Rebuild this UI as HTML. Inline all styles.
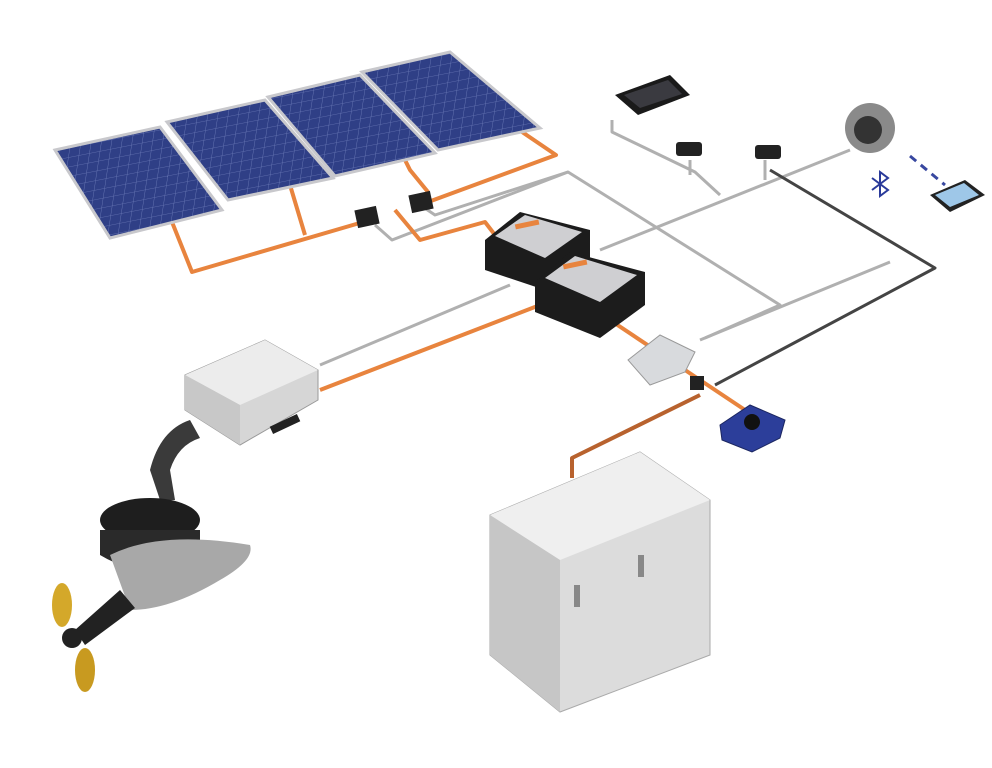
<!DOCTYPE html>
<html><head><style>html,body{margin:0;padding:0;background:#fff}svg{display:block}</style></head>
<body>
<svg width="992" height="768" viewBox="0 0 992 768" xmlns="http://www.w3.org/2000/svg">
<defs>
<pattern id="cells" width="10" height="10" patternUnits="userSpaceOnUse" patternTransform="skewX(-20) rotate(-12)">
<rect width="10" height="10" fill="#2f3f86"/><path d="M0 0H10M0 0V10" stroke="#6c7bb8" stroke-width="0.8"/>
</pattern>
</defs>
<g fill="none" stroke-linejoin="round">
<!-- gray wires -->
<g stroke="#b0b0b0" stroke-width="3">
<path d="M375 225 L392 240 L568 172 L780 305 L705 338"/>
<path d="M420 205 L435 215 L568 172"/>
<path d="M320 365 L510 285"/>
<path d="M600 250 L850 150"/>
<path d="M612 120 L612 132 L695 172 L720 195"/>
<path d="M690 160 L690 175"/>
<path d="M765 160 L765 180"/>
<path d="M700 340 L890 262"/>
</g>
<path d="M770 170 L935 268 L715 385" stroke="#444" stroke-width="3"/>
<!-- orange cables -->
<g stroke="#e8843e" stroke-width="4">
<path d="M172 222 L192 272 L370 220"/>
<path d="M290 185 L305 235"/>
<path d="M400 150 L410 170 L428 192"/>
<path d="M500 117 L556 155 L420 205"/>
<path d="M395 210 L420 240 L485 222 L495 235"/>
<path d="M320 390 L540 305"/>
<path d="M610 320 L700 380 L760 420"/>
</g>
<path d="M700 395 L572 458 L572 478" stroke="#b8622e" stroke-width="4"/>
<path d="M910 156 L945 185" stroke="#3848a0" stroke-width="3" stroke-dasharray="8 6"/>
</g>
<!-- solar panels -->
<g stroke="#c8c8cc" stroke-width="3">
<polygon points="55,150 160,127 222,210 110,238" fill="url(#cells)"/>
<polygon points="167,122 265,100 333,178 228,200" fill="url(#cells)"/>
<polygon points="268,97 360,75 435,153 335,176" fill="url(#cells)"/>
<polygon points="362,72 450,52 540,128 438,150" fill="url(#cells)"/>
</g>
<!-- junction boxes -->
<rect x="356" y="208" width="22" height="18" fill="#222" transform="rotate(-12 367 217)"/>
<rect x="410" y="193" width="22" height="18" fill="#222" transform="rotate(-12 421 202)"/>
<!-- controllers -->
<g>
<polygon points="485,240 520,212 590,230 590,262 545,290 485,270" fill="#1c1c1c"/>
<polygon points="495,236 525,215 582,232 545,258" fill="#cfcfd2"/>
<polygon points="535,282 570,252 645,272 645,305 600,338 535,312" fill="#1c1c1c"/>
<polygon points="545,278 575,256 637,275 600,302" fill="#cfcfd2"/>
<rect x="563" y="262" width="24" height="5" fill="#e8843e" transform="rotate(-12 575 264)"/>
<rect x="515" y="222" width="24" height="5" fill="#e8843e" transform="rotate(-12 527 224)"/>
</g>
<!-- heatsink -->
<polygon points="628,360 660,335 695,352 685,372 650,385" fill="#d8dadd" stroke="#999"/>
<rect x="690" y="376" width="14" height="14" fill="#222"/>
<!-- blue outlet -->
<polygon points="720,425 750,405 785,420 780,438 752,452 722,440" fill="#2c3e9a" stroke="#1b2660"/>
<circle cx="752" cy="422" r="8" fill="#111"/>
<!-- motor controller box -->
<polygon points="185,375 265,340 318,370 318,400 240,445 185,410" fill="#d6d6d6" stroke="#999"/>
<polygon points="185,375 265,340 318,370 240,405" fill="#ececec"/>
<polygon points="185,375 240,405 240,445 185,410" fill="#c8c8c8"/>
<rect x="270" y="420" width="30" height="8" fill="#222" transform="rotate(-25 285 424)"/>
<!-- motor pod -->
<path d="M190 420 Q160 430 150 470 L160 500 L175 500 L170 470 Q178 445 200 438 Z" fill="#3a3a3a"/>
<ellipse cx="150" cy="520" rx="50" ry="22" fill="#1e1e1e"/>
<path d="M100 530 L100 555 Q150 585 200 555 L200 530 Z" fill="#2a2a2a"/>
<path d="M110 555 Q160 530 250 545 Q255 560 220 580 Q170 610 130 610 Z" fill="#a8a8a8"/>
<path d="M120 590 L75 630 L85 645 L135 608 Z" fill="#222"/>
<ellipse cx="62" cy="605" rx="10" ry="22" fill="#d4a82a"/>
<ellipse cx="85" cy="670" rx="10" ry="22" fill="#c89a20"/>
<circle cx="72" cy="638" r="10" fill="#222"/>
<!-- battery cabinet -->
<polygon points="490,515 640,452 710,500 710,655 560,712 490,655" fill="#dcdcdc" stroke="#aaa"/>
<polygon points="490,515 640,452 710,500 560,560" fill="#efefef"/>
<polygon points="490,515 560,560 560,712 490,655" fill="#c6c6c6"/>
<rect x="574" y="585" width="6" height="22" fill="#888"/>
<rect x="638" y="555" width="6" height="22" fill="#888"/>
<!-- display & sensors -->
<polygon points="615,95 670,75 690,95 638,115" fill="#1a1a1a"/>
<polygon points="624,95 668,80 682,94 640,108" fill="#3a3a40"/>
<rect x="676" y="142" width="26" height="14" rx="3" fill="#222"/>
<rect x="755" y="145" width="26" height="14" rx="3" fill="#222"/>
<!-- round device -->
<circle cx="870" cy="128" r="25" fill="#8a8a8a"/>
<circle cx="868" cy="130" r="14" fill="#333"/>
<!-- bluetooth -->
<path d="M872 178 L888 190 L880 196 L880 172 L888 178 L872 190" fill="none" stroke="#2a3a9a" stroke-width="2"/>
<!-- phone -->
<polygon points="930,195 965,180 985,195 950,212" fill="#222"/>
<polygon points="935,195 964,183 979,195 950,207" fill="#9ec7e8"/>
</svg>
</body></html>
